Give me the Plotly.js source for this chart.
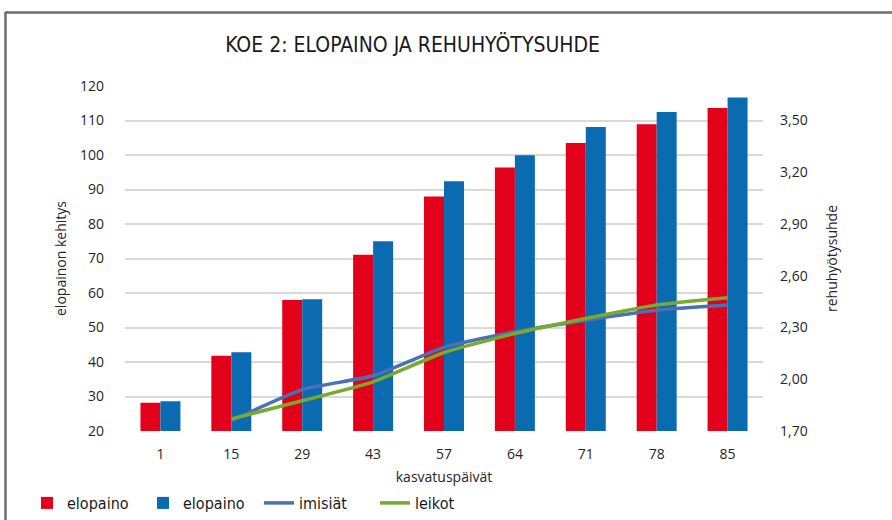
<!DOCTYPE html>
<html>
<head>
<meta charset="utf-8">
<script src="https://cdn.plot.ly/plotly-3.0.1.min.js"></script>
<style>html,body{margin:0;padding:0;background:#fff;}#chart{width:892px;height:520px;}</style>
</head>
<body>
<div id="chart"></div>
<script>
// Data
var days = ["1", "15", "29", "43", "57", "64", "71", "78", "85"];
var elopainoRed = [28.2, 41.8, 58.0, 71.1, 88.0, 96.4, 103.5, 108.9, 113.6];
var elopainoBlue = [28.6, 42.8, 58.2, 75.0, 92.4, 99.9, 108.1, 112.5, 116.7];
var imisiatDays = ["15", "29", "43", "57", "64", "71", "78", "85"];
var imisiat = [1.76, 1.94, 2.02, 2.185, 2.275, 2.342, 2.40, 2.43];
var leikot = [1.77, 1.875, 1.985, 2.155, 2.265, 2.352, 2.43, 2.472];
var leftTicks = [20, 30, 40, 50, 60, 70, 80, 90, 100, 110, 120];
var rightTickVals = [1.70, 2.00, 2.30, 2.60, 2.90, 3.20, 3.50];
var rightTickText = ["1,70", "2,00", "2,30", "2,60", "2,90", "3,20", "3,50"];

var FONT = "Open Sans, Liberation Sans, sans-serif";
var COND = "DejaVu Sans Condensed, Open Sans, sans-serif";
var TXT = "#262626";

var traces = [
  {type: "bar", name: "elopaino", x: days, y: elopainoRed, marker: {color: "#e2001a"}, yaxis: "y"},
  {type: "bar", name: "elopaino", x: days, y: elopainoBlue, marker: {color: "#0a6bb0"}, yaxis: "y"},
  {type: "scatter", mode: "lines", name: "imisiät", x: imisiatDays, y: imisiat, yaxis: "y2",
   line: {color: "#4a70b6", width: 3.5, shape: "spline", smoothing: 0.5}},
  {type: "scatter", mode: "lines", name: "leikot", x: imisiatDays, y: leikot, yaxis: "y2",
   line: {color: "#77aa2e", width: 3.5, shape: "spline", smoothing: 0.5}}
];

var W = 892, H = 520;
var L = 125, R = 129, T = 86, B = 89;
var PW = W - L - R, PH = H - T - B;
function px(x) { return (x - L) / PW; }
function py(y) { return (H - B - y) / PH; }

var layout = {
  width: W, height: H,
  margin: {l: L, r: R, t: T, b: B, pad: 0},
  paper_bgcolor: "#ffffff", plot_bgcolor: "#ffffff",
  font: {family: FONT, size: 14, color: TXT},
  barmode: "group", bargap: 0.436, bargroupgap: 0,
  title: {text: "KOE 2: ELOPAINO JA REHUHYÖTYSUHDE", xref: "container", x: 0.4625, xanchor: "center",
          yref: "container", y: 1 - 45 / H, yanchor: "middle",
          font: {family: COND, size: 21, color: "#1a1a1a"}},
  xaxis: {type: "category", showgrid: false, zeroline: false, showline: false, ticks: "", automargin: false,
          tickfont: {size: 14, color: TXT}, ticklabelstandoff: 13,
          title: {text: "kasvatuspäivät", font: {size: 14, color: TXT}, standoff: 19}},
  yaxis: {range: [20, 120], tickvals: leftTicks, showgrid: true, gridcolor: "#d9d9d9", gridwidth: 1.5,
          zeroline: false, showline: false, ticks: "", automargin: false, tickfont: {size: 14, color: TXT},
          ticklabelstandoff: 20,
          title: {text: "elopainon kehitys", font: {size: 14, color: TXT}, standoff: 10}},
  yaxis2: {overlaying: "y", side: "right", range: [1.70, 3.70], tickvals: rightTickVals, ticktext: rightTickText,
           showgrid: false, zeroline: false, showline: false, ticks: "", automargin: false,
           tickfont: {size: 14, color: TXT}, ticklabelstandoff: 16,
           title: {text: "rehuhyötysuhde", font: {size: 14, color: TXT}, standoff: 20}},
  legend: {orientation: "h", xref: "container", x: 27 / W, xanchor: "left",
           yref: "container", y: -3 / H, yanchor: "bottom",
           font: {family: COND, size: 16, color: "#1a1a1a"},
           entrywidth: 71, entrywidthmode: "pixels", traceorder: "normal", bgcolor: "rgba(0,0,0,0)"},
  showlegend: true,
  shapes: [
    {type: "line", xref: "paper", yref: "paper", x0: px(5), x1: px(900), y0: py(12.5), y1: py(12.5),
     line: {color: "#6b6b6b", width: 2.5}},
    {type: "line", xref: "paper", yref: "paper", x0: px(5.5), x1: px(5.5), y0: py(12), y1: py(530),
     line: {color: "#6b6b6b", width: 2.5}}
  ]
};

Plotly.newPlot("chart", traces, layout, {displayModeBar: false, responsive: false});
</script>
</body>
</html>
